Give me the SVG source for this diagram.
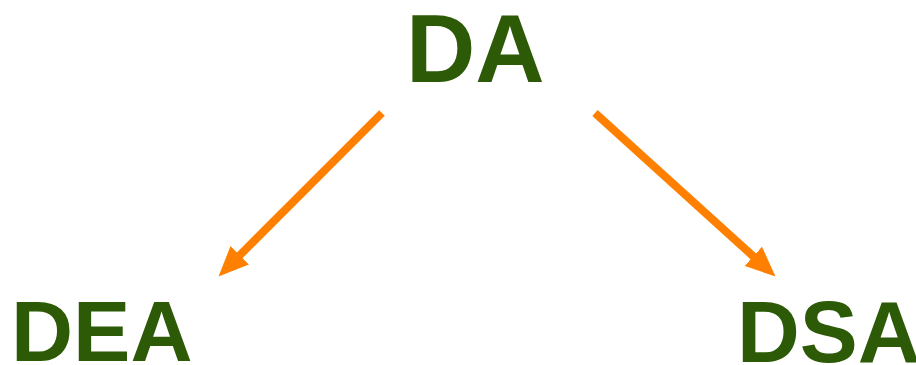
<svg xmlns="http://www.w3.org/2000/svg" width="916" height="365" viewBox="0 0 916 365">
<style>
.lbl{font-family:"Liberation Sans",Arial,sans-serif;font-weight:bold;fill:#2d5a06}
.conn{stroke:#ff8000;stroke-width:8;fill:none}
</style>
<defs>
<marker id="ah" markerUnits="userSpaceOnUse" viewBox="0 0 30 26" refX="1" refY="13" markerWidth="30" markerHeight="26" orient="auto">
<path d="M0,0 L30,13 L0,26 z" fill="#ff8000"/>
</marker>
</defs>
<rect width="916" height="365" fill="#ffffff"/>
<g id="connectors">
<line class="conn" x1="382" y1="113" x2="239" y2="256" marker-end="url(#ah)"/>
<line class="conn" x1="595" y1="113" x2="754" y2="257" marker-end="url(#ah)"/>
</g>
<g id="node-DA"><text class="lbl" x="406" y="82" font-size="96">DA</text></g>
<g id="node-DEA"><text class="lbl" x="11" y="361" font-size="86">DEA</text></g>
<g id="node-DSA"><text class="lbl" x="737" y="362" font-size="87">DSA</text></g>
</svg>
